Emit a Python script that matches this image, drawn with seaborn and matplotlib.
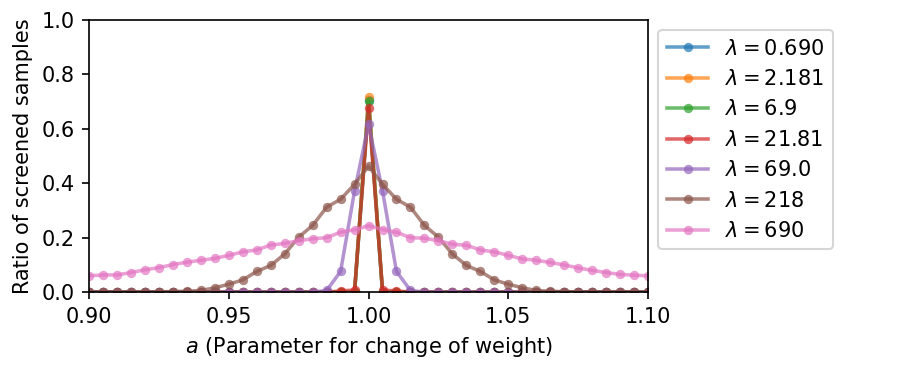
import numpy as np
import pandas as pd
import matplotlib
matplotlib.use("Agg")
import matplotlib.pyplot as plt
import seaborn as sns

# x grid: parameter a from 0.90 to 1.10 in steps of 0.005
a_values = np.round(np.linspace(0.90, 1.10, 41), 3)

lambda_labels = [r"$\lambda = 0.690$", r"$\lambda = 2.181$", r"$\lambda = 6.9$",
                 r"$\lambda = 21.81$", r"$\lambda = 69.0$", r"$\lambda = 218$",
                 r"$\lambda = 690$"]

ratio_0690 = [0.0] * 20 + [0.705] + [0.0] * 20
ratio_2181 = [0.0] * 20 + [0.715] + [0.0] * 20
ratio_69 = [0.0] * 20 + [0.702] + [0.0] * 20
ratio_2181b = [0.0] * 18 + [0.004, 0.008, 0.676, 0.008, 0.004] + [0.0] * 18
ratio_690 = [0.0] * 17 + [0.006, 0.076, 0.372, 0.616, 0.372, 0.076, 0.006] + [0.0] * 17
ratio_218 = [0.001, 0.001, 0.001, 0.001, 0.001, 0.001, 0.002, 0.003, 0.006, 0.016,
             0.029, 0.045, 0.076, 0.098, 0.140, 0.202, 0.245, 0.312, 0.341, 0.396,
             0.463,
             0.396, 0.341, 0.312, 0.245, 0.202, 0.140, 0.098, 0.076, 0.045, 0.029,
             0.016, 0.006, 0.003, 0.002, 0.001, 0.001, 0.001, 0.001, 0.001, 0.001]
ratio_6900 = [0.060, 0.063, 0.063, 0.072, 0.082, 0.090, 0.101, 0.110, 0.117, 0.124,
              0.135, 0.148, 0.155, 0.173, 0.179, 0.189, 0.196, 0.200, 0.220, 0.229,
              0.244,
              0.230, 0.220, 0.200, 0.198, 0.189, 0.176, 0.172, 0.155, 0.148, 0.135,
              0.122, 0.117, 0.109, 0.100, 0.089, 0.080, 0.072, 0.065, 0.062, 0.060]

series = [ratio_0690, ratio_2181, ratio_69, ratio_2181b, ratio_690, ratio_218, ratio_6900]

colors = sns.color_palette("tab10", 7)

fig, ax = plt.subplots(figsize=(6, 2.5), dpi=150)
fig.subplots_adjust(left=0.099, right=0.72, bottom=0.221, top=0.947)

for label, vals, col in zip(lambda_labels, series, colors):
    df = pd.DataFrame({"a": a_values, "ratio": vals})
    sns.lineplot(data=df, x="a", y="ratio", ax=ax, color=col, marker="o",
                 markersize=4.5, markeredgewidth=0, linewidth=1.7, alpha=0.7,
                 label=label)

ax.set_xlim(0.90, 1.10)
ax.set_ylim(0.0, 1.0)
ax.set_xticks([0.90, 0.95, 1.00, 1.05, 1.10])
ax.set_xlabel(r"$a$ (Parameter for change of weight)")
ax.set_ylabel("Ratio of screened samples")
ax.legend(loc="upper left", bbox_to_anchor=(1.0, 1.0))

fig.savefig("out.png", dpi=150)
